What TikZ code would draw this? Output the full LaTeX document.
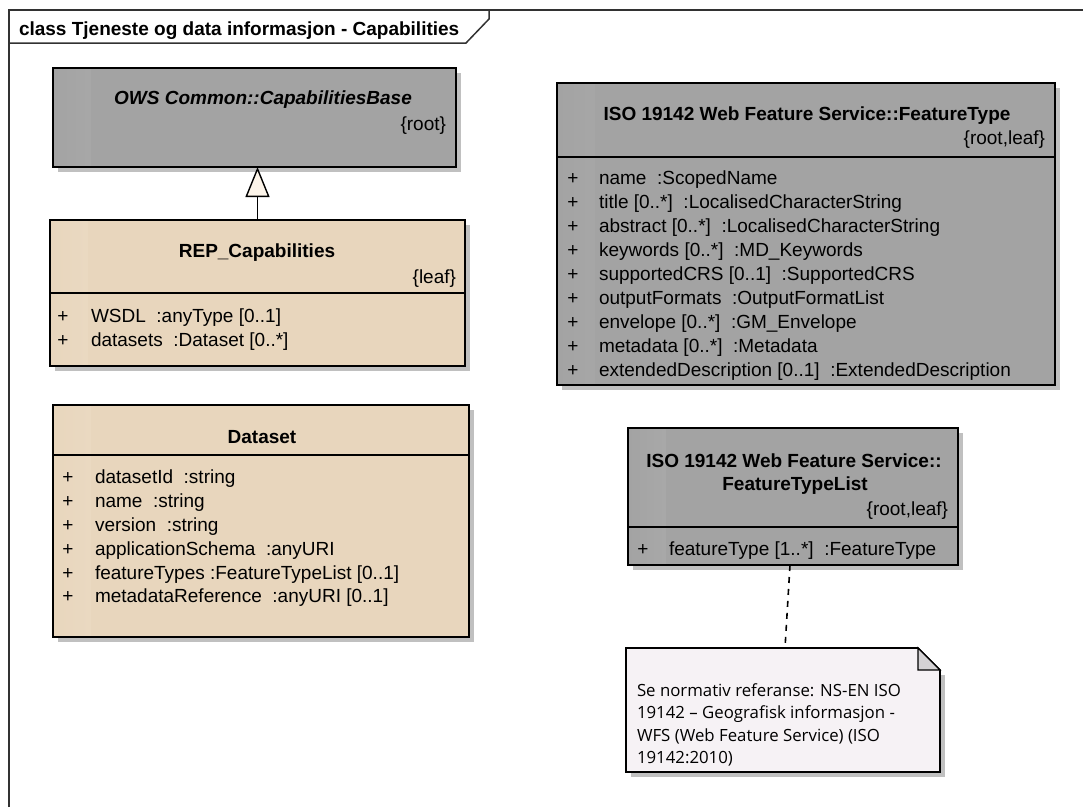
\documentclass[tikz,border=0pt]{standalone}
\usepackage{fontspec}
\setmainfont{Liberation Sans}
\newfontfamily\notefont{Open Sans}
\usetikzlibrary{shadows,arrows.meta}

\definecolor{classgray}{RGB}{163,163,163}
\definecolor{classgraylight}{RGB}{208,208,208}
\definecolor{beige}{RGB}{232,214,189}
\definecolor{beigelight}{RGB}{252,246,237}
\definecolor{shadowgray}{RGB}{192,192,192}
\definecolor{notefill}{RGB}{246,242,245}
\definecolor{foldgray}{RGB}{212,210,212}
\definecolor{framegray}{RGB}{50,50,50}
\definecolor{arrowfill}{RGB}{252,244,233}

\begin{document}
\begin{tikzpicture}[x=1pt,y=-1pt,
  every node/.style={inner sep=0pt,outer sep=0pt,font=\fontsize{19}{23}\selectfont},
  umlbox/.style={draw=black,line width=1.6pt,anchor=north west,
    drop shadow={shadow xshift=5pt,shadow yshift=-5pt,fill=shadowgray,opacity=1}},
  % the y axis points down, so the axis shading runs mirrored: colours are given right-to-left
  graybox/.style={umlbox,fill=classgray,
    path picture={\shade[left color=classgray,right color=classgraylight]
      (path picture bounding box.north west) rectangle ([xshift=38pt]path picture bounding box.south west);}},
  beigebox/.style={umlbox,fill=beige,
    path picture={\shade[left color=beige,right color=beigelight]
      (path picture bounding box.north west) rectangle ([xshift=38pt]path picture bounding box.south west);}},
  classname/.style={anchor=base,font=\fontsize{19}{23}\selectfont\bfseries},
  prop/.style={anchor=base east},
  attr/.style={anchor=base west},
  plus/.style={anchor=base},
  sep/.style={draw=black,line width=1.6pt},
  notetxt/.style={anchor=base west,font=\notefont\fontsize{16.8}{22}\selectfont},
  frameline/.style={draw=framegray,line width=1.5pt},
  generalize/.style={draw=black,line width=1.4pt,
    -{Triangle[width=24pt,length=30pt,open,fill=arrowfill]}},
  notelink/.style={draw=black,line width=1.6pt,dash pattern=on 6pt off 6pt}
]
\useasboundingbox (0,0) rectangle (1083,807);

% diagram frame with its title tab
\draw[frameline] (9,807) -- (9,10) -- (1083,10);
\draw[frameline] (9,43) -- (466,43) -- (489,19) -- (489,10);
\node[anchor=base west,font=\fontsize{19}{23}\selectfont\bfseries] (frametitle) at (19,35)
  {class Tjeneste og data informasjon - Capabilities};

% OWS Common::CapabilitiesBase
\node[graybox,minimum width=403pt,minimum height=99pt] (base) at (53,68) {};
\node[classname,font=\fontsize{19}{23}\selectfont\bfseries\itshape] (basename) at (263,104)
  {OWS Common::CapabilitiesBase};
\node[prop] (baseprop) at (446,130) {\{root\}};

% REP_Capabilities
\node[beigebox,minimum width=415pt,minimum height=146pt] (rep) at (50,220) {};
\node[classname] (repname) at (257,257) {REP\_Capabilities};
\node[prop] (repprop) at (456,283) {\{leaf\}};
\draw[sep] (rep.west |- 0,293) -- (rep.east |- 0,293);
\foreach \t [count=\i, evaluate=\i as \y using 298+24*\i] in
  {{WSDL\ \ :anyType [0..1]},{datasets\ \ :Dataset [0..*]}}{
  \node[plus] (repplus\i) at (63,\y) {+};
  \node[attr] (repattr\i) at (91,\y) {\t};
}

% generalization REP_Capabilities -> CapabilitiesBase
\draw[generalize] (rep.north) -- (rep.north |- base.south);

% Dataset
\node[beigebox,minimum width=416pt,minimum height=232pt] (dataset) at (53,405) {};
\node[classname] (datasetname) at (262,443) {Dataset};
\draw[sep] (dataset.west |- 0,455) -- (dataset.east |- 0,455);
\foreach \t [count=\i, evaluate=\i as \y using 460+23.8*\i] in
  {{datasetId\ \ :string},{name\ \ :string},{version\ \ :string},
   {applicationSchema\ \ :anyURI},{featureTypes :FeatureTypeList [0..1]},
   {metadataReference\ \ :anyURI [0..1]}}{
  \node[plus] (dsplus\i) at (68,\y) {+};
  \node[attr] (dsattr\i) at (95,\y) {\t};
}

% ISO 19142 Web Feature Service::FeatureType
\node[graybox,minimum width=498pt,minimum height=302pt] (ft) at (557,83) {};
\node[classname] (ftname) at (807,120) {ISO 19142 Web Feature Service::FeatureType};
\node[prop] (ftprop) at (1045,144) {\{root,leaf\}};
\draw[sep] (ft.west |- 0,157) -- (ft.east |- 0,157);
\foreach \t [count=\i, evaluate=\i as \y using 160+24*\i] in
  {{name\ \ :ScopedName},{title [0..*]\ \ :LocalisedCharacterString},
   {abstract [0..*]\ \ :LocalisedCharacterString},{keywords [0..*]\ \ :MD\_Keywords},
   {supportedCRS [0..1]\ \ :SupportedCRS},{outputFormats\ \ :OutputFormatList},
   {envelope [0..*]\ \ :GM\_Envelope},{metadata [0..*]\ \ :Metadata},
   {extendedDescription [0..1]\ \ :ExtendedDescription}}{
  \node[plus] (ftplus\i) at (573,\y) {+};
  \node[attr] (ftattr\i) at (599,\y) {\t};
}

% ISO 19142 Web Feature Service::FeatureTypeList
\node[graybox,minimum width=330pt,minimum height=137pt] (ftl) at (628,428) {};
\node[classname] (ftlname1) at (794,467) {ISO 19142 Web Feature Service::};
\node[classname] (ftlname2) at (795,490) {FeatureTypeList};
\node[prop] (ftlprop) at (948,515) {\{root,leaf\}};
\draw[sep] (ftl.west |- 0,527) -- (ftl.east |- 0,527);
\node[plus] (ftlplus1) at (643,555) {+};
\node[attr] (ftlattr1) at (669,555) {featureType [1..*]\ \ :FeatureType};

% note with folded corner
\node[anchor=north west,minimum width=314pt,minimum height=124pt] (note) at (626,648) {};
\fill[shadowgray] ([shift={(5pt,-27pt)}]note.north east) rectangle ([shift={(5pt,-5pt)}]note.south west);
\filldraw[fill=notefill,draw=black,line width=1.6pt]
  (note.north west) -- ([xshift=-22pt]note.north east) -- ([yshift=-22pt]note.north east)
  -- (note.south east) -- (note.south west) -- cycle;
\filldraw[fill=foldgray,draw=black,line width=1.2pt]
  ([xshift=-22pt]note.north east) -- ([xshift=-22pt,yshift=-22pt]note.north east)
  -- ([yshift=-22pt]note.north east) -- cycle;
\node[notetxt] (note1) at (637,696) {Se normativ referanse: NS-EN ISO};
\node[notetxt] (note2) at (637,718) {19142 – Geografisk informasjon -};
\node[notetxt] (note3) at (637,741) {WFS (Web Feature Service) (ISO};
\node[notetxt] (note4) at (637,763) {19142:2010)};

% note attached to FeatureTypeList
\draw[notelink] ([xshift=-3pt]ftl.south) -- ([xshift=2pt]note.north);
\end{tikzpicture}
\end{document}
